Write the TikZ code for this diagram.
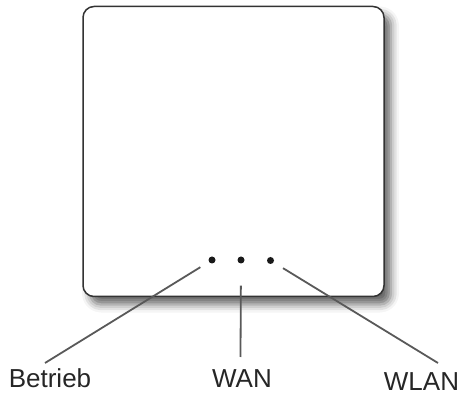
\documentclass[tikz,border=0pt]{standalone}
\usepackage{fontspec}
\setmainfont{Liberation Sans}
\usetikzlibrary{shadows.blur}
\begin{document}
\begin{tikzpicture}[x=1pt,y=-1pt,
  panel/.style={draw=black!80, line width=1.5pt, fill=white, rounded corners=11pt,
    minimum width=301pt, minimum height=290pt, inner sep=0pt,
    blur shadow={shadow xshift=7pt, shadow yshift=-8pt, shadow blur radius=8pt, shadow opacity=60}},
  led/.style={circle, fill=black!90, inner sep=0pt, minimum size=7pt},
  conn/.style={draw=black!65, line width=1.8pt},
  lbl/.style={anchor=base, inner sep=0pt, font=\fontsize{26}{30}\selectfont, text=black!85}]
\useasboundingbox (0,0) rectangle (461,395);
\node[panel] (box) at (233.5,151.5) {};
\node[led] (d1) at (212,260) {};
\node[led] (d2) at (241,260) {};
\node[led] (d3) at (270.5,260.5) {};
\node[lbl] (betrieb) at (50,388) {Betrieb};
\node[lbl] (wan) at (242,388) {WAN};
\node[lbl] (wlan) at (421.5,391) {WLAN};
\coordinate (e1) at (45,363);
\coordinate (e2) at (240.5,357);
\coordinate (e3) at (438,363);
\draw[conn, shorten <=10pt] (d1) -- (e1);
\draw[conn, shorten <=22pt] (d2) -- (e2);
\draw[conn, shorten <=11pt] (d3) -- (e3);
\end{tikzpicture}
\end{document}
